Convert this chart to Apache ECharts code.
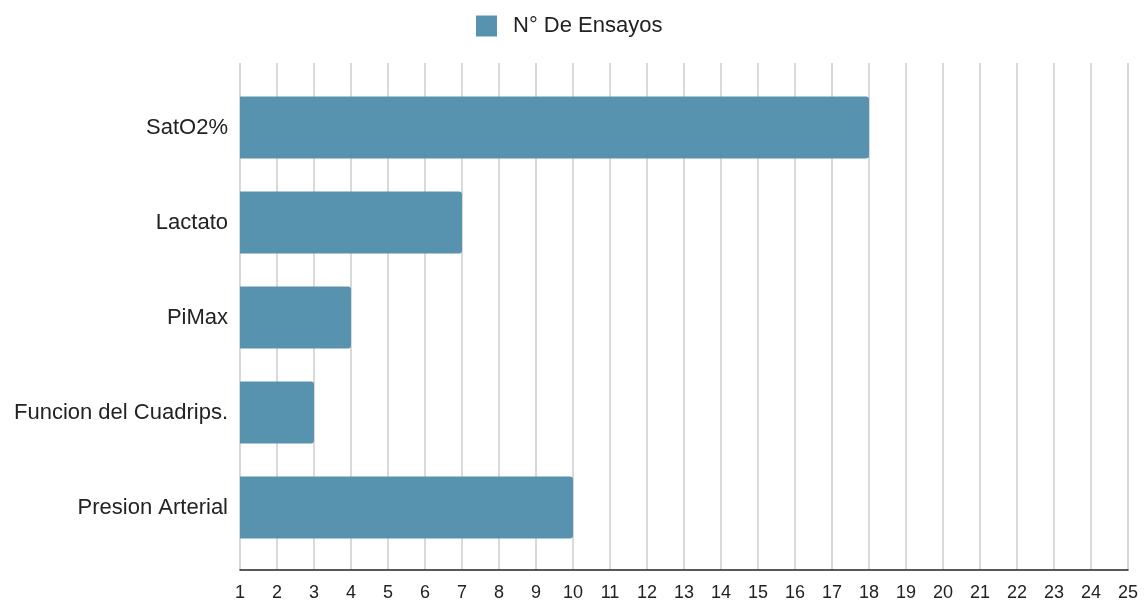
<!DOCTYPE html>
<html>
<head>
<meta charset="utf-8">
<script src="https://cdn.jsdelivr.net/npm/echarts@6/dist/echarts.min.js"></script>
<style>
  html, body { margin: 0; padding: 0; background: #fff; }
  #main { width: 1148px; height: 605px; }
</style>
</head>
<body>
<div id="main"></div>
<script>
var categories = ['SatO2%', 'Lactato', 'PiMax', 'Funcion del Cuadrips.', 'Presion Arterial'];
var ensayos = [18, 7, 4, 3, 10];
var seriesName = 'N° De Ensayos';

var chart = echarts.init(document.getElementById('main'));
chart.setOption({
    animation: false,
    textStyle: { fontFamily: 'Liberation Sans, Arial, sans-serif' },
    legend: {
        top: 10,
        left: 471,
        itemWidth: 21,
        itemHeight: 21,
        icon: 'rect',
        textStyle: { fontSize: 22, color: '#222', padding: [0, 0, 0, 11] },
        data: [seriesName]
    },
    grid: [
        { left: 240, right: 20, top: 63, bottom: 35 },
        { left: 240, right: 20, top: 80, bottom: 50 }
    ],
    xAxis: [
        {
            gridIndex: 0,
            type: 'value',
            min: 1,
            max: 25,
            interval: 1,
            axisLine: { show: true, onZero: false, lineStyle: { color: '#222', width: 1.5 } },
            axisTick: { show: false },
            axisLabel: { fontSize: 18, color: '#222', margin: 14 },
            splitLine: { show: true, lineStyle: { color: '#cccccc', width: 1.5 } }
        },
        {
            gridIndex: 1,
            type: 'value',
            min: 1,
            max: 25,
            show: false
        }
    ],
    yAxis: [
        {
            gridIndex: 0,
            type: 'category',
            data: categories,
            show: false
        },
        {
            gridIndex: 1,
            type: 'category',
            inverse: true,
            data: categories,
            axisLine: { show: false },
            axisTick: { show: false },
            axisLabel: { fontSize: 22, color: '#222', margin: 12 },
            splitLine: { show: false }
        }
    ],
    series: [
        {
            name: seriesName,
            type: 'bar',
            xAxisIndex: 1,
            yAxisIndex: 1,
            data: ensayos,
            barWidth: 62,
            itemStyle: { color: '#5792ae', borderRadius: [0, 3, 3, 0] }
        }
    ]
});
</script>
</body>
</html>
